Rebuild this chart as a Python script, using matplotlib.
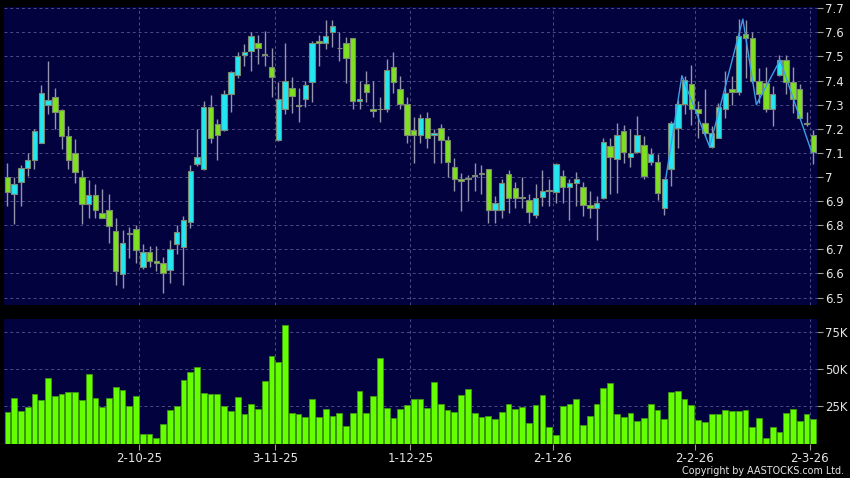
import numpy as np
import pandas as pd
import matplotlib
matplotlib.use('Agg')
import matplotlib.pyplot as plt

# HK trading days shown on the chart
holidays = ['2025-10-01', '2025-10-07', '2025-10-29', '2025-12-25', '2025-12-26',
            '2026-01-01', '2026-02-17', '2026-02-18', '2026-02-19']
dates = pd.bdate_range('2025-09-03', '2026-03-02', freq='C', holidays=holidays)

tick_dates = ['2025-10-02', '2025-11-03', '2025-12-01', '2026-01-02', '2026-02-02', '2026-03-02']
tick_labels = ['2-10-25', '3-11-25', '1-12-25', '2-1-26', '2-2-26', '2-3-26']

opens = [7.00, 6.929, 6.979, 7.037, 7.07, 7.14, 7.298, 7.331, 7.276, 7.169,
         7.10, 7.00, 6.887, 6.927, 6.85, 6.865, 6.778, 6.597, 6.768, 6.786,
         6.628, 6.69, 6.65, 6.642, 6.614, 6.722, 6.711, 6.812, 7.053, 7.032,
         7.292, 7.221, 7.195, 7.344, 7.423, 7.506, 7.523, 7.555, 7.506, 7.455,
         7.152, 7.281, 7.371, 7.299, 7.322, 7.393, 7.562, 7.555, 7.603, 7.535,
         7.555, 7.576, 7.314, 7.385, 7.28, 7.281, 7.281, 7.455, 7.364, 7.302,
         7.194, 7.173, 7.244, 7.174, 7.202, 7.152, 7.04, 6.99, 6.99, 7.004,
         7.012, 7.032, 6.863, 6.863, 7.011, 6.953, 6.913, 6.903, 6.841, 6.918,
         6.94, 6.939, 7.002, 6.96, 6.974, 6.96, 6.883, 6.87, 6.912, 7.13,
         7.073, 7.192, 7.082, 7.102, 7.132, 7.061, 7.061, 6.87, 7.032, 7.202,
         7.302, 7.385, 7.281, 7.223, 7.123, 7.16, 7.281, 7.364, 7.351, 7.592,
         7.575, 7.40, 7.39, 7.281, 7.422, 7.484, 7.394, 7.364, 7.22, 7.173]

highs = [7.06, 7.00, 7.05, 7.10, 7.20, 7.381, 7.482, 7.37, 7.28, 7.211,
         7.158, 7.03, 6.987, 6.97, 6.95, 6.93, 6.83, 6.78, 6.794, 6.80,
         6.722, 6.715, 6.713, 6.67, 6.74, 6.80, 6.84, 7.05, 7.20, 7.315,
         7.34, 7.24, 7.36, 7.44, 7.52, 7.55, 7.60, 7.59, 7.605, 7.534,
         7.395, 7.555, 7.414, 7.37, 7.40, 7.564, 7.59, 7.65, 7.65, 7.60,
         7.58, 7.576, 7.40, 7.44, 7.40, 7.33, 7.49, 7.52, 7.42, 7.33,
         7.25, 7.26, 7.27, 7.20, 7.22, 7.17, 7.08, 7.015, 7.01, 7.06,
         7.05, 7.032, 6.92, 6.99, 7.03, 6.98, 7.0, 6.93, 6.97, 7.03,
         6.99, 7.06, 7.03, 6.99, 7.02, 6.98, 6.94, 6.92, 7.16, 7.16,
         7.223, 7.216, 7.20, 7.253, 7.17, 7.12, 7.095, 6.99, 7.234, 7.32,
         7.42, 7.465, 7.315, 7.364, 7.21, 7.306, 7.441, 7.42, 7.656, 7.65,
         7.603, 7.45, 7.458, 7.378, 7.506, 7.506, 7.455, 7.386, 7.27, 7.195]

lows = [6.878, 6.807, 6.878, 7.006, 7.034, 7.14, 7.26, 7.197, 7.118, 7.034,
        6.977, 6.807, 6.828, 6.828, 6.83, 6.728, 6.554, 6.539, 6.663, 6.645,
        6.62, 6.625, 6.61, 6.52, 6.559, 6.68, 6.552, 6.79, 7.045, 7.03,
        7.14, 7.07, 7.19, 7.27, 7.41, 7.46, 7.44, 7.47, 7.462, 7.333,
        7.15, 7.26, 7.264, 7.23, 7.29, 7.312, 7.46, 7.53, 7.54, 7.48,
        7.39, 7.28, 7.28, 7.31, 7.25, 7.23, 7.27, 7.35, 7.28, 7.14,
        7.06, 7.14, 7.12, 7.06, 7.06, 7.00, 6.94, 6.86, 6.90, 6.94,
        6.93, 6.81, 6.81, 6.83, 6.85, 6.87, 6.87, 6.81, 6.83, 6.88,
        6.88, 6.89, 6.89, 6.822, 6.88, 6.84, 6.83, 6.74, 6.91, 6.93,
        6.932, 7.06, 7.04, 7.10, 6.99, 7.05, 6.905, 6.842, 6.963, 7.12,
        7.26, 7.216, 7.16, 7.17, 7.12, 7.16, 7.243, 7.30, 7.34, 7.41,
        7.39, 7.306, 7.27, 7.212, 7.42, 7.343, 7.264, 7.24, 7.21, 7.054]

closes = [6.936, 6.969, 7.037, 7.07, 7.19, 7.348, 7.319, 7.269, 7.169, 7.07,
          7.02, 6.887, 6.927, 6.865, 6.83, 6.796, 6.611, 6.728, 6.764, 6.697,
          6.69, 6.653, 6.642, 6.60, 6.70, 6.77, 6.82, 7.024, 7.082, 7.292,
          7.162, 7.173, 7.343, 7.434, 7.503, 7.52, 7.584, 7.534, 7.506, 7.414,
          7.322, 7.40, 7.335, 7.295, 7.383, 7.555, 7.555, 7.585, 7.627, 7.533,
          7.493, 7.314, 7.322, 7.352, 7.273, 7.28, 7.443, 7.393, 7.302, 7.173,
          7.173, 7.244, 7.16, 7.181, 7.152, 7.064, 6.99, 6.982, 6.99, 7.004,
          7.012, 6.863, 6.891, 6.974, 6.912, 6.912, 6.912, 6.854, 6.912, 6.94,
          6.94, 7.053, 6.96, 6.974, 6.99, 6.883, 6.87, 6.891, 7.143, 7.082,
          7.173, 7.102, 7.101, 7.173, 7.004, 7.094, 6.932, 6.99, 7.223, 7.302,
          7.403, 7.281, 7.264, 7.181, 7.181, 7.292, 7.35, 7.351, 7.585, 7.575,
          7.40, 7.343, 7.281, 7.343, 7.484, 7.394, 7.322, 7.243, 7.218, 7.104]

volume_k = [20.9, 30.3, 21.5, 24.4, 33.0, 29.1, 43.9, 31.6, 33.2, 34.5,
            34.5, 28.9, 46.6, 30.3, 24.7, 30.7, 37.7, 35.9, 24.9, 32.1,
            6.7, 6.1, 4.0, 12.8, 22.4, 24.9, 42.4, 47.8, 51.1, 33.9,
            33.0, 33.4, 25.3, 21.7, 30.9, 20.0, 26.7, 23.1, 41.9, 59.0,
            54.9, 79.6, 20.4, 19.7, 17.7, 30.0, 17.9, 22.9, 18.6, 20.4,
            11.9, 20.6, 35.4, 20.6, 31.6, 57.4, 24.0, 16.8, 23.1, 25.6,
            29.6, 30.0, 24.0, 41.3, 26.2, 22.4, 21.1, 32.5, 36.5, 20.4,
            17.9, 18.2, 16.4, 21.1, 26.2, 23.3, 24.7, 13.7, 26.0, 32.3,
            10.8, 5.4, 25.1, 26.7, 30.0, 12.1, 18.2, 26.5, 37.0, 40.8,
            19.5, 17.9, 20.2, 15.0, 16.8, 26.2, 22.4, 16.6, 34.3, 35.2,
            30.0, 25.8, 15.7, 14.3, 19.7, 19.7, 22.4, 21.7, 21.7, 22.4,
            11.4, 16.8, 3.4, 11.2, 7.6, 20.6, 23.3, 15.0, 20.0, 16.4]

# zigzag overlay (position in trading days, price)
zz_pos = [97.2, 99.6, 103.7, 108.6, 110.6, 114.1, 118.8]
zz_val = [6.99, 7.42, 7.125, 7.655, 7.30, 7.485, 7.10]

BG = '#02023f'
CYAN = '#22e6f2'
GREEN = '#7ee020'
GRID = '#4c4c86'
TXT = '#e6e6e6'

o = np.array(opens)
c = np.array(closes)
x = np.arange(len(dates))
tick_pos = [dates.get_loc(pd.Timestamp(d)) - 0.5 for d in tick_dates]

fig = plt.figure(figsize=(8.5, 4.78), dpi=100, facecolor='black')
ax = fig.add_axes([4 / 850, 1 - 305 / 478, 813 / 850, 298 / 478])
axv = fig.add_axes([4 / 850, 1 - 443.5 / 478, 813 / 850, 124.5 / 478])

for a in (ax, axv):
    a.set_facecolor(BG)
    for s in a.spines.values():
        s.set_visible(False)
    a.set_xlim(-0.5, len(x) - 0.45)
    a.set_xticks(tick_pos)
    a.yaxis.tick_right()
    a.grid(True, color=GRID, ls=(0, (3, 3)), lw=0.7)
    a.set_axisbelow(True)
    a.tick_params(axis='y', colors='#9a9a9a', labelcolor=TXT, labelsize=8.5, length=4, pad=2)

# candles
colors = np.where(c > o, CYAN, np.where(c < o, GREEN, '#a0a890'))
body_lo = np.minimum(o, c)
body_h = np.maximum(np.abs(c - o), 0.004)
ax.vlines(x, lows, highs, color='#9494ac', lw=1, zorder=2)
ax.bar(x, body_h, bottom=body_lo, width=0.8, color=colors,
       edgecolor='#7d8a72', linewidth=0.8, zorder=3)
ax.plot(zz_pos, zz_val, color='#3a9ee8', lw=1, zorder=4)

ax.set_ylim(6.469, 7.705)
ax.set_yticks(np.round(np.arange(6.5, 7.71, 0.1), 1))
ax.set_yticklabels([f'{v:g}' for v in np.round(np.arange(6.5, 7.71, 0.1), 1)])
ax.tick_params(axis='x', length=0, labelbottom=False)

# volume
axv.bar(x, volume_k, width=0.85, color='#66ff00', edgecolor='#3c9a10', linewidth=0.6, zorder=3)
axv.set_ylim(0, 83.5)
axv.set_yticks([25, 50, 75])
axv.set_yticklabels(['25K', '50K', '75K'])
axv.set_xticklabels(tick_labels)
axv.tick_params(axis='x', colors='#9a9a9a', labelcolor=TXT, labelsize=8.5, length=4, pad=2)

fig.text(0.993, 0.004, 'Copyright by AASTOCKS.com Ltd.', color=TXT, fontsize=6.9,
         ha='right', va='bottom')

fig.savefig('out.png', dpi=100, facecolor='black')
